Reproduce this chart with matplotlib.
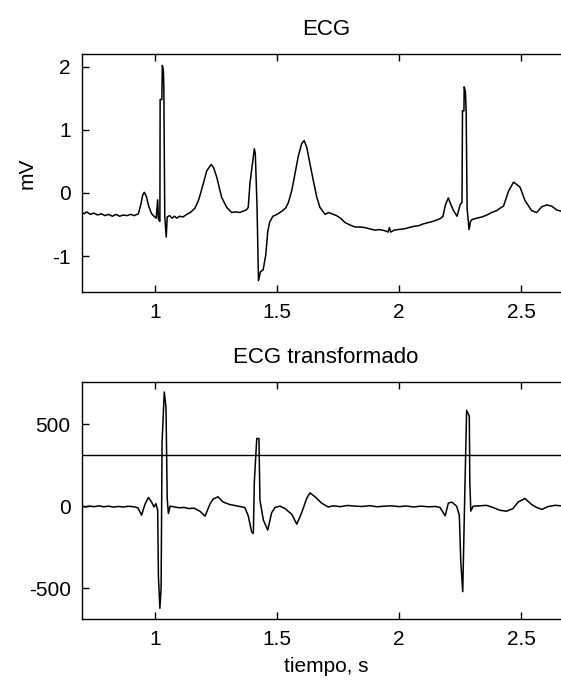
import matplotlib
matplotlib.use('Agg')
import matplotlib.pyplot as plt

# ECG (mV)
t_ecg = [0.700, 0.710, 0.720, 0.735, 0.750, 0.765, 0.780, 0.795, 0.810, 0.825,
         0.840, 0.855, 0.870, 0.885, 0.900, 0.915, 0.932, 0.942, 0.950, 0.956,
         0.964, 0.975, 0.986, 0.996, 1.005, 1.011, 1.014, 1.017, 1.020, 1.021,
         1.028, 1.030, 1.034, 1.036, 1.040, 1.046, 1.050, 1.060, 1.070, 1.080,
         1.090, 1.100, 1.115, 1.130, 1.145, 1.164, 1.178, 1.191, 1.212, 1.230,
         1.240, 1.253, 1.273, 1.294, 1.314, 1.330, 1.347, 1.374, 1.382, 1.389,
         1.398, 1.407, 1.411, 1.418, 1.424, 1.432, 1.443, 1.454, 1.462, 1.470,
         1.483, 1.500, 1.520, 1.535, 1.546, 1.560, 1.573, 1.587, 1.601, 1.611,
         1.622, 1.635, 1.649, 1.663, 1.676, 1.697, 1.712, 1.724, 1.744, 1.760,
         1.779, 1.800, 1.820, 1.840, 1.861, 1.880, 1.902, 1.920, 1.943, 1.955,
         1.960, 1.966, 1.980, 1.997, 2.020, 2.040, 2.060, 2.080, 2.100, 2.120,
         2.140, 2.160, 2.172, 2.180, 2.190, 2.202, 2.212, 2.223, 2.238, 2.250,
         2.258, 2.260, 2.266, 2.267, 2.272, 2.275, 2.279, 2.287, 2.293, 2.300,
         2.320, 2.340, 2.360, 2.380, 2.400, 2.415, 2.428, 2.449, 2.469, 2.480,
         2.496, 2.516, 2.543, 2.564, 2.585, 2.605, 2.626, 2.646, 2.664, 2.700]
v_ecg = [-0.31, -0.33, -0.30, -0.34, -0.32, -0.35, -0.33, -0.36, -0.34, -0.37,
         -0.34, -0.37, -0.35, -0.36, -0.34, -0.36, -0.33, -0.18, -0.03, 0.01,
         -0.05, -0.22, -0.33, -0.37, -0.40, -0.11, -0.41, -0.44, -0.45, 1.48,
         1.48, 2.02, 1.95, 1.72, -0.37, -0.70, -0.38, -0.36, -0.40, -0.37,
         -0.40, -0.37, -0.38, -0.34, -0.31, -0.24, -0.12, 0.05, 0.35, 0.45,
         0.40, 0.25, -0.07, -0.23, -0.31, -0.30, -0.31, -0.27, -0.23, 0.15,
         0.43, 0.70, 0.62, -0.20, -1.39, -1.25, -1.22, -0.98, -0.61, -0.46,
         -0.37, -0.34, -0.29, -0.24, -0.16, 0.03, 0.29, 0.58, 0.78, 0.83,
         0.72, 0.46, 0.19, -0.07, -0.23, -0.34, -0.31, -0.33, -0.36, -0.40,
         -0.47, -0.51, -0.54, -0.54, -0.55, -0.57, -0.59, -0.58, -0.60, -0.62,
         -0.55, -0.62, -0.59, -0.58, -0.57, -0.55, -0.53, -0.52, -0.49, -0.47,
         -0.45, -0.42, -0.40, -0.37, -0.19, -0.08, -0.18, -0.28, -0.37, -0.19,
         -0.15, 1.30, 1.30, 1.68, 1.60, 1.30, -0.25, -0.58, -0.45, -0.42,
         -0.40, -0.38, -0.35, -0.31, -0.28, -0.24, -0.21, 0.03, 0.17, 0.14,
         0.09, -0.12, -0.28, -0.31, -0.22, -0.19, -0.21, -0.27, -0.29, -0.30]

# transformed ECG
t_tr = [0.700, 0.715, 0.730, 0.750, 0.770, 0.790, 0.810, 0.830, 0.850, 0.870,
        0.890, 0.910, 0.930, 0.945, 0.959, 0.973, 0.986, 0.996, 1.004, 1.011,
        1.014, 1.020, 1.025, 1.029, 1.038, 1.045, 1.050, 1.055, 1.062, 1.080,
        1.100, 1.120, 1.140, 1.160, 1.184, 1.205, 1.225, 1.238, 1.258, 1.279,
        1.306, 1.340, 1.368, 1.382, 1.396, 1.403, 1.407, 1.417, 1.426, 1.430,
        1.444, 1.462, 1.478, 1.492, 1.512, 1.533, 1.560, 1.581, 1.601, 1.622,
        1.635, 1.656, 1.683, 1.710, 1.730, 1.760, 1.790, 1.820, 1.850, 1.880,
        1.910, 1.940, 1.970, 2.000, 2.030, 2.060, 2.090, 2.120, 2.150, 2.168,
        2.189, 2.202, 2.216, 2.236, 2.247, 2.253, 2.261, 2.270, 2.277, 2.288,
        2.290, 2.294, 2.304, 2.331, 2.358, 2.385, 2.413, 2.440, 2.467, 2.488,
        2.516, 2.543, 2.564, 2.585, 2.612, 2.639, 2.664, 2.700]
v_tr = [0, -5, 0, -3, 2, -4, 0, -6, -2, -5,
        -1, -3, -10, -55, 12, 53, 25, -5, 15, -25,
        -431, -624, -500, 392, 697, 605, 45, -45, 0, -5,
        -10, -8, -15, -12, -31, -61, 12, 43, 57, 25,
        10, 0, -8, -59, -157, -167, 148, 413, 413, 37,
        -85, -146, -40, -8, 0, -15, -49, -110, -40, 49,
        81, 57, 18, -5, 2, -3, 4, 0, -2, 3,
        -4, 0, 2, -3, 1, -5, 0, -4, -2, -8,
        -59, 18, 25, 0, -55, -340, -522, 118, 585, 550,
        150, -30, 0, 2, 5, -8, -25, -31, -15, 25,
        47, 10, -8, -20, -2, 5, 2, 0]

umbral = 315

plt.rcParams['font.family'] = ['Liberation Sans', 'DejaVu Sans']
plt.rcParams['font.size'] = 15
plt.rcParams['axes.unicode_minus'] = False

fig = plt.figure(figsize=(5.61, 6.91), dpi=100)
ax1 = fig.add_axes([0.1458, 0.5774, 0.870, 0.3444])
ax2 = fig.add_axes([0.1458, 0.1042, 0.870, 0.3430])

ax1.plot(t_ecg, v_ecg, color='black', linewidth=1.1)
ax1.set_xlim(0.7, 2.7)
ax1.set_ylim(-1.57, 2.2)
ax1.set_yticks([-1, 0, 1, 2])
ax1.set_title('ECG', pad=14, fontsize=16)
ax1.set_ylabel('mV', labelpad=11)

ax2.plot(t_tr, v_tr, color='black', linewidth=1.1)
ax2.axhline(umbral, color='black', linewidth=1.0)
ax2.set_xlim(0.7, 2.7)
ax2.set_ylim(-689, 758)
ax2.set_yticks([-500, 0, 500])
ax2.set_title('ECG transformado', pad=14, fontsize=16)
ax2.set_xlabel('tiempo, s', labelpad=6)

for ax in (ax1, ax2):
    ax.set_xticks([1, 1.5, 2, 2.5])
    ax.set_xticklabels(['1', '1.5', '2', '2.5'])
    ax.tick_params(direction='in', length=5, width=1, top=True, right=False,
                   pad=8, colors='black', labelsize=15)
    for sp in ax.spines.values():
        sp.set_linewidth(1.0)

fig.savefig('out.png', dpi=100)
